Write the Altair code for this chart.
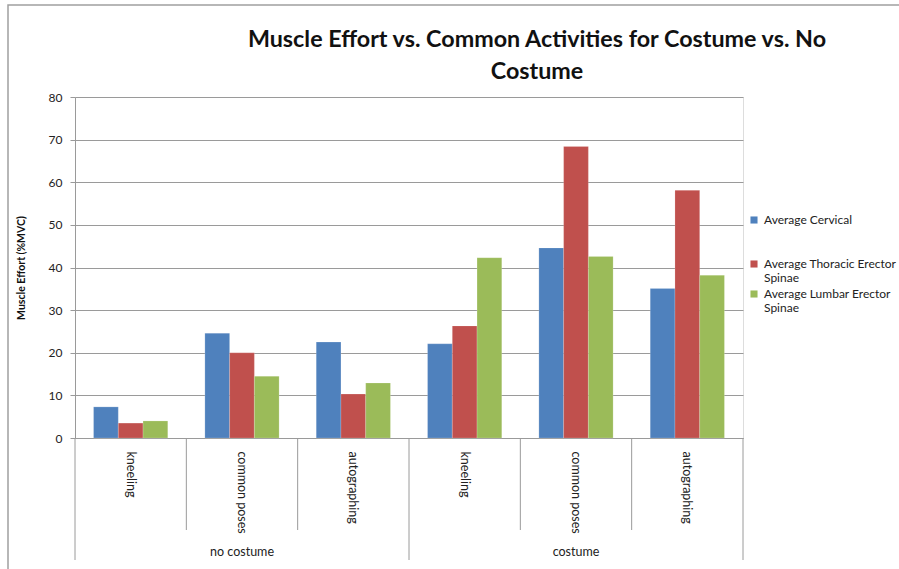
import altair as alt
import pandas as pd

groups = ["no costume", "no costume", "no costume", "costume", "costume", "costume"]
activities = ["kneeling", "common poses", "autographing", "kneeling", "common poses", "autographing"]
series = ["Average Cervical", "Average Thoracic Erector Spinae", "Average Lumbar Erector Spinae"]
cervical = [7.3, 24.6, 22.5, 22.1, 44.6, 35.1]
thoracic = [3.5, 20.0, 10.3, 26.3, 68.4, 58.1]
lumbar = [4.0, 14.5, 12.9, 42.3, 42.6, 38.2]
colors = ["#4F81BD", "#C0504D", "#9BBB59"]
title_lines = ["Muscle Effort vs. Common Activities for Costume vs. No", "Costume"]

cats = [f"{g}|{a}" for g, a in zip(groups, activities)]
rows = []
for s, vals in zip(series, [cervical, thoracic, lumbar]):
    for c, v in zip(cats, vals):
        rows.append({"cat": c, "series": s, "value": v})
df = pd.DataFrame(rows)

W, H = 668, 341
FONT = "Lato"
GRAY = "#9a9a9a"

xscale = alt.Scale(domain=cats, paddingInner=0, paddingOuter=0)

bars = alt.Chart(df).mark_bar(stroke="white", strokeWidth=0.3, strokeOpacity=0.6).encode(
    x=alt.X("cat:N", scale=xscale, sort=cats,
            axis=alt.Axis(title=None, ticks=False, labelAngle=90, labelPadding=13,
                          labelExpr="split(datum.label, '|')[1]", labelFontSize=12.5,
                          labelColor="#222", domainColor=GRAY, labelFont=FONT)),
    xOffset=alt.XOffset("series:N", sort=series,
                        scale=alt.Scale(paddingInner=0, paddingOuter=0.75)),
    y=alt.Y("value:Q", scale=alt.Scale(domain=[0, 80]),
            axis=alt.Axis(title="Muscle Effort (%MVC)", values=list(range(0, 81, 10)),
                          tickSize=5, tickColor=GRAY, domainColor=GRAY, gridColor=GRAY,
                          labelFontSize=12, labelColor="#222", labelPadding=8,
                          titleFontSize=10.5, titleFontWeight="bold", titlePadding=22,
                          titleColor="#111", labelFont=FONT, titleFont=FONT)),
    color=alt.Color("series:N", sort=series,
                    scale=alt.Scale(domain=series, range=colors),
                    legend=alt.Legend(title=None, orient="none", legendX=673, legendY=117,
                                      symbolType="square", symbolSize=50, symbolStrokeWidth=0,
                                      labelFontSize=12, labelColor="#222", labelFont=FONT,
                                      labelLimit=200, rowPadding=4,
                                      labelExpr="datum.label == 'Average Cervical' ? [datum.label, '', ''] : [replace(datum.label, ' Spinae', ''), 'Spinae']")),
)

short_df = pd.DataFrame({"cat": [cats[1], cats[2], cats[4], cats[5]]})
long_df = pd.DataFrame({"cat": [cats[0], cats[3]]})
end_df = pd.DataFrame({"cat": [cats[5]]})

short_rules = alt.Chart(short_df).mark_rule(color=GRAY, strokeWidth=1).encode(
    x=alt.X("cat:N", scale=xscale, sort=cats, bandPosition=0),
    y=alt.value(H), y2=alt.value(H + 92))
long_rules = alt.Chart(long_df).mark_rule(color=GRAY, strokeWidth=1).encode(
    x=alt.X("cat:N", scale=xscale, sort=cats, bandPosition=0),
    y=alt.value(H), y2=alt.value(H + 122))
end_rule = alt.Chart(end_df).mark_rule(color=GRAY, strokeWidth=1).encode(
    x=alt.X("cat:N", scale=xscale, sort=cats, bandPosition=1),
    y=alt.value(H), y2=alt.value(H + 122))

grp_df = pd.DataFrame({"cat": [cats[1], cats[4]], "label": ["no costume", "costume"]})
grp_text = alt.Chart(grp_df).mark_text(fontSize=12.5, color="#222", font=FONT).encode(
    x=alt.X("cat:N", scale=xscale, sort=cats),
    y=alt.value(H + 114), text="label:N")

frame = alt.Chart(pd.DataFrame({"k": [0]})).mark_rect(fill=None, stroke="#a0a0a0", strokeWidth=1.5).encode(
    x=alt.value(-67), x2=alt.value(W + 300), y=alt.value(-92), y2=alt.value(H + 300))

title1 = alt.Chart(pd.DataFrame({"t": [title_lines[0]]})).mark_text(
    font=FONT, fontSize=23.3, fontWeight="bold", color="#111").encode(
    x=alt.value(462), y=alt.value(-57), text="t:N")
title2 = alt.Chart(pd.DataFrame({"t": [title_lines[1]]})).mark_text(
    font=FONT, fontSize=23.3, fontWeight="bold", color="#111").encode(
    x=alt.value(462), y=alt.value(-25), text="t:N")

chart = alt.layer(frame, bars, short_rules, long_rules, end_rule, grp_text, title1, title2).properties(
    width=W, height=H,
    autosize=alt.AutoSizeParams(type="none"),
    padding={"left": 75, "top": 97, "right": 899 - 75 - W, "bottom": 569 - 97 - H},
).configure_view(stroke=None).configure(background="white")

chart.save("out.html", embed_options={"renderer": "svg", "actions": False})
